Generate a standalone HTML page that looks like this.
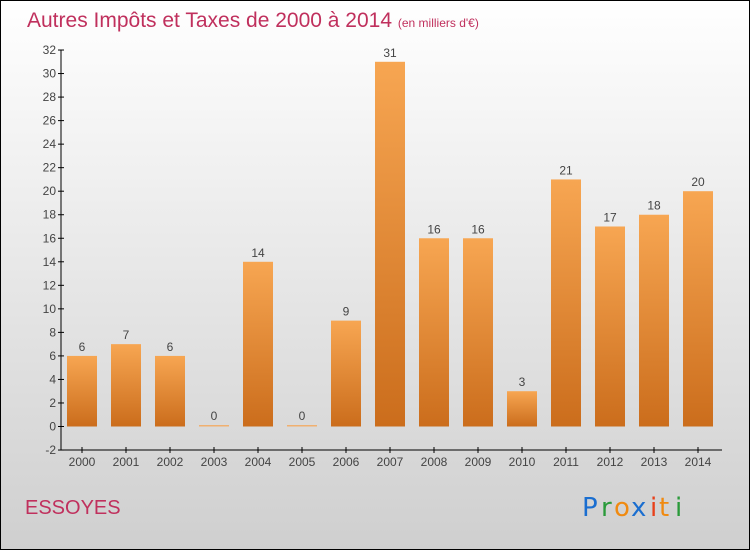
<!DOCTYPE html>
<html><head><meta charset="utf-8"><style>
html,body{margin:0;padding:0;}
body{width:750px;height:550px;overflow:hidden;font-family:"Liberation Sans",sans-serif;}
</style></head><body>
<svg id="chart" width="750" height="550" xmlns="http://www.w3.org/2000/svg">
<defs>
<linearGradient id="bg" x1="0" y1="0" x2="0" y2="1"><stop offset="0" stop-color="#ffffff"/><stop offset="1" stop-color="#cfcfcf"/></linearGradient>
<linearGradient id="bar" x1="0" y1="0" x2="0" y2="1"><stop offset="0" stop-color="#f7a652"/><stop offset="1" stop-color="#cb6d1c"/></linearGradient>
</defs>
<rect x="0.5" y="0.5" width="749" height="549" fill="url(#bg)" stroke="#000"/>
<text x="27" y="27" font-size="21" fill="#c0305d">Autres Impôts et Taxes de 2000 à 2014 <tspan font-size="12">(en milliers d'€)</tspan></text>
<text x="25" y="514" font-size="20" fill="#c0305d">ESSOYES</text>
<g font-size="26" font-family="DejaVu Sans, sans-serif">
<text x="582" y="516" fill="#1a6ed0">P</text><text x="601" y="516" fill="#2a9a3a">r</text><text x="614" y="516" fill="#f08a10">o</text><text x="631" y="516" fill="#1a6ed0">x</text><text x="650" y="516" fill="#e8401a">i</text><text x="659" y="516" fill="#f08a10">t</text><text x="675" y="516" fill="#2a9a3a">i</text>
</g>
<g id="axes"></g>
<g id="bars"></g>
</svg>
<script>
const years=["2000","2001","2002","2003","2004","2005","2006","2007","2008","2009","2010","2011","2012","2013","2014"];
const values=[6,7,6,0,14,0,9,31,16,16,3,21,17,18,20];
const yTicks=[-2,0,2,4,6,8,10,12,14,16,18,20,22,24,26,28,30,32];
const NS="http://www.w3.org/2000/svg";
const y=v=>426.5-(v)*11.765;
const x=i=>82+i*44;
function mk(tag,attrs,parent){const e=document.createElementNS(NS,tag);for(const k in attrs)e.setAttribute(k,attrs[k]);parent.appendChild(e);return e;}
const ax=document.getElementById('axes'),bg=document.getElementById('bars');
let l=mk('line',{x1:61,y1:y(32),x2:61,y2:y(-2),stroke:'#000'},ax);


l=mk('line',{x1:61,y1:y(-2),x2:722,y2:y(-2),stroke:'#000'},ax);


yTicks.forEach(t=>{
 mk('line',{x1:58,x2:64,y1:y(t),y2:y(t),stroke:'#000'},ax);
 const tx=mk('text',{x:56,y:y(t)+4,'text-anchor':'end','font-size':12,fill:'#444'},ax);
 tx.textContent=t;
 
 
});
years.forEach((yr,i)=>{
 mk('line',{x1:x(i),x2:x(i),y1:y(-2)-3,y2:y(-2)+3,stroke:'#000'},ax);
 const tx=mk('text',{x:x(i),y:466,'text-anchor':'middle','font-size':12,fill:'#444'},ax);
 tx.textContent=yr;
 
 
 const v=values[i];
 const top=Math.min(y(v),y(0)-1.5), h=Math.max(y(0)-y(v),1.5);
 const r=mk('rect',{x:x(i)-15,y:top,width:30,height:h,fill:v>0?'url(#bar)':'#f0b070'},bg);
 
 
 const lb=mk('text',{x:x(i),y:top-5,'text-anchor':'middle','font-size':12,fill:'#444'},bg);
 lb.textContent=v;
 
 
});
</script>
</body></html>
